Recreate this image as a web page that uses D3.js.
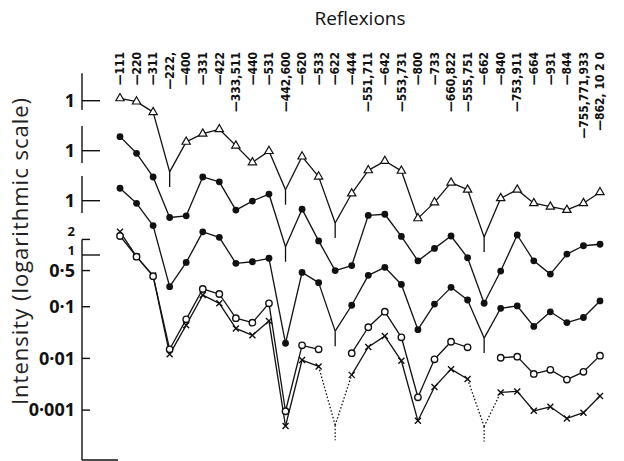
<!DOCTYPE html>
<html>
<head>
<meta charset="utf-8">
<script src="https://cdn.jsdelivr.net/npm/d3@7"></script>
<style>
	body { margin: 0; background: #fff; }
	svg { display: block; }
</style>
</head>
<body>
<svg id="chart" width="624" height="461"></svg>
<script>
const reflexions = ["111", "220", "311", "222,", "400", "331", "422", "333,511", "440", "531",
	"442,600", "620", "533", "622", "444", "551,711", "642", "553,731", "800", "733",
	"660,822", "555,751", "662", "840", "753,911", "664", "931", "844", "755,771,933", "862, 10 2 0"];

// intensities, each curve on its own log axis
const triangles = [1.11, 0.96, 0.60, 0.042, 0.16, 0.23, 0.28, 0.135, 0.064, 0.106,
	0.019, 0.083, 0.034, 0.0043, 0.016, 0.045, 0.068, 0.044, 0.0053, 0.0108,
	0.026, 0.019, 0.0023, 0.013, 0.019, 0.0104, 0.0089, 0.0077, 0.0104, 0.0169];
const dotsUpper = [1.87, 0.89, 0.31, 0.051, 0.055, 0.31, 0.25, 0.071, 0.106, 0.145,
	0.0139, 0.074, 0.018, 0.0048, 0.006, 0.056, 0.059, 0.022, 0.0074, 0.0129,
	0.0224, 0.0085, 0.00112, 0.0047, 0.0234, 0.0074, 0.0041, 0.0100, 0.0145, 0.0155];
const dotsLower = [1.74, 0.89, 0.33, 0.0217, 0.064, 0.25, 0.196, 0.0615, 0.066, 0.077,
	0.00175, 0.041, 0.026, 0.0030, 0.0095, 0.036, 0.0515, 0.024, 0.0032, 0.0100,
	0.0211, 0.012, 0.0022, 0.0083, 0.0092, 0.0037, 0.0071, 0.0044, 0.0055, 0.0115];
const circles = [2.33, 0.93, 0.39, 0.015, 0.057, 0.22, 0.176, 0.060, 0.049, 0.116,
	0.00095, 0.0179, 0.015, null, 0.0126, 0.040, 0.080, 0.0256, 0.00177, 0.0096,
	0.021, 0.0164, null, 0.0103, 0.0108, 0.0050, 0.0060, 0.0039, 0.0055, 0.0113];
const crosses = [2.82, 0.93, 0.40, 0.012, 0.044, 0.168, 0.116, 0.038, 0.028, 0.053,
	0.00049, 0.0093, 0.0070, 0.00051, 0.0048, 0.0166, 0.027, 0.0090, 0.00062, 0.0028,
	0.0062, 0.0040, 0.00048, 0.0022, 0.0023, 0.00097, 0.00116, 0.00069, 0.00089, 0.00187];

// reflexions too weak to measure (drawn as a V with a stub)
const trianglesFaint = [3, 10, 13, 22];
const dotsUpperFaint = [10];
const dotsLowerFaint = [13, 22];
const crossesFaint = [13, 22];
const crossesDotted = [12, 13, 21, 22];

const upperTicks = [1];
const lowerTicks = [2, 1, 0.5, 0.1, 0.01, 0.001];
const tickText = { 2: "2", 1: "1", 0.5: "0·5", 0.1: "0·1", 0.01: "0·01", 0.001: "0·001" };

const svg = d3.select("#chart");
const INK = "#111";
const DECADE = 51.7;
const AXIS_X = 82;

const x = d3.scalePoint().domain(reflexions).range([120, 600]);

/**
 * @param  {number} onePos pixel row of the value 1
 */
function logScale(onePos) {
	return d3.scaleLog().domain([1, 0.001]).range([onePos, onePos + 3 * DECADE]);
}

const groups = [
	{ y: logScale(100.7), span: [3.4, 0.66], ticks: upperTicks,
		series: [{ values: triangles, marker: "triangle", faint: trianglesFaint }] },
	{ y: logScale(150.7), span: [3.0, 0.58], ticks: upperTicks,
		series: [{ values: dotsUpper, marker: "dot", faint: dotsUpperFaint }] },
	{ y: logScale(200.7), span: [3.0, 0.58], ticks: upperTicks,
		series: [{ values: dotsLower, marker: "dot", faint: dotsLowerFaint }] },
	{ y: logScale(255), span: [2, 0.000108], ticks: lowerTicks,
		series: [
			{ values: crosses, marker: "cross", faint: crossesFaint, dotted: crossesDotted },
			{ values: circles, marker: "circle", faint: [] },
		] },
];

// title and axis label
svg.append("text")
	.attr("x", 360).attr("y", 25)
	.attr("text-anchor", "middle")
	.style("font", "19px 'Open Sans', sans-serif")
	.attr("fill", INK)
	.text("Reflexions");

svg.append("text")
	.attr("transform", "translate(28,251) rotate(-90)")
	.attr("text-anchor", "middle")
	.style("font", "22px 'Open Sans', sans-serif")
	.style("letter-spacing", "1px")
	.attr("fill", "#222")
	.text("Intensity (logarithmic scale)");

// reflexion labels
svg.append("g").selectAll("text")
	.data(reflexions)
	.join("text")
	.attr("transform", d => `translate(${x(d)},52) rotate(-90)`)
	.attr("text-anchor", "end")
	.attr("dy", "0.35em")
	.style("font", "bold 12px 'Liberation Sans Narrow', 'DejaVu Sans Condensed', sans-serif")
	.attr("fill", INK)
	.text(d => "\u2014" + d);

// axis pieces
const axes = svg.append("g").attr("stroke", INK).attr("stroke-width", 1.4);
groups.forEach((g, gi) => {
	axes.append("line")
		.attr("x1", AXIS_X).attr("x2", AXIS_X)
		.attr("y1", g.y(g.span[0])).attr("y2", g.y(g.span[1]));
	g.ticks.forEach((t) => {
		axes.append("line")
			.attr("x1", AXIS_X).attr("x2", AXIS_X + (t === 1 ? 18 : 8))
			.attr("y1", g.y(t)).attr("y2", g.y(t));
		// the 2 and 1 of the lowest axis are packed tight
		const tight = gi === 3 && t >= 1;
		const nudge = tight ? (t === 2 ? -7.5 : -5) : 0;
		svg.append("text")
			.attr("x", 75).attr("y", g.y(t) + nudge)
			.attr("dy", "0.35em")
			.attr("text-anchor", "end")
			.style("font", `bold ${tight ? 13 : 18}px 'Open Sans', sans-serif`)
			.attr("fill", INK)
			.text(tickText[t]);
	});
});
const bottomY = groups[3].y(groups[3].span[1]);
axes.append("line")
	.attr("x1", AXIS_X).attr("x2", 118)
	.attr("y1", bottomY).attr("y2", bottomY);

// curves
const plot = svg.append("g");
const symbols = {
	triangle: d3.symbol(d3.symbolTriangle, 30)(),
	cross: "M-3,-3L3,3M-3,3L3,-3",
};

groups.forEach((g) => {
	g.series.forEach((s) => {
		const pts = s.values.map((v, i) => ({ i, c: reflexions[i], v, faint: s.faint.includes(i) }));
		const dotted = s.dotted || [];

		// one segment at a time, so gaps and dotted stretches are kept
		for (let i = 0; i < pts.length - 1; i++) {
			const a = pts[i], b = pts[i + 1];
			if (a.v == null || b.v == null) continue;
			plot.append("line")
				.attr("x1", x(a.c)).attr("y1", g.y(a.v))
				.attr("x2", x(b.c)).attr("y2", g.y(b.v))
				.attr("stroke", INK)
				.attr("stroke-width", 1.3)
				.attr("stroke-dasharray", dotted.includes(i) ? "1.5,2" : null);
		}

		const shown = pts.filter(p => p.v != null);
		plot.selectAll(null)
			.data(shown.filter(p => p.faint))
			.join("line")
			.attr("x1", p => x(p.c)).attr("x2", p => x(p.c))
			.attr("y1", p => g.y(p.v)).attr("y2", p => g.y(p.v) + 15)
			.attr("stroke", INK)
			.attr("stroke-width", 1.3)
			.attr("stroke-dasharray", dotted.length ? "1.5,2" : null);

		const marks = plot.selectAll(null)
			.data(shown.filter(p => !p.faint))
			.join("g")
			.attr("transform", p => `translate(${x(p.c)},${g.y(p.v)})`);

		if (s.marker === "dot") {
			marks.append("circle").attr("r", 3.4).attr("fill", INK);
		} else if (s.marker === "circle") {
			marks.append("circle").attr("r", 3.2)
				.attr("fill", "#fff").attr("stroke", INK).attr("stroke-width", 1.4);
		} else if (s.marker === "triangle") {
			marks.append("path").attr("d", symbols.triangle)
				.attr("fill", "#fff").attr("stroke", INK).attr("stroke-width", 1.2);
		} else {
			marks.append("path").attr("d", symbols.cross)
				.attr("fill", "none").attr("stroke", INK).attr("stroke-width", 1.4);
		}
	});
});
</script>
</body>
</html>
